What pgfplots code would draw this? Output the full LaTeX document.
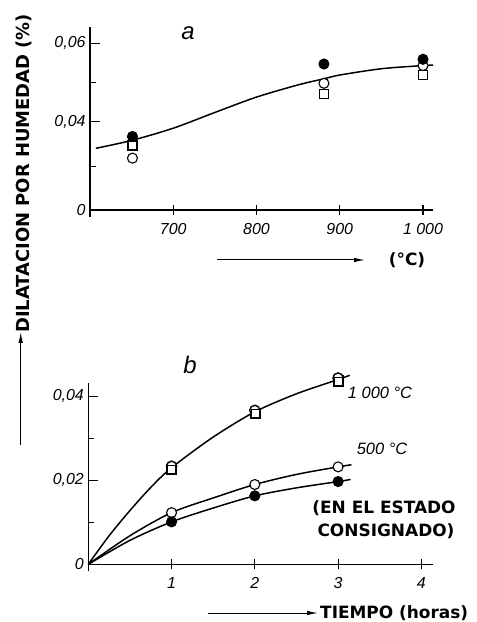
\documentclass[border=0pt]{standalone}
\usepackage{fontspec}
\setmainfont{Liberation Sans}
\newfontfamily\dv{DejaVu Sans}
\usepackage{pgfplots}
\pgfplotsset{compat=1.18}
\usetikzlibrary{arrows.meta}

\pgfplotsset{
  fig/.style={
    scale only axis, axis lines*=left, clip=false,
    axis line style={line width=1.1pt},
    y axis line style={shorten <=-7bp},
    major tick length=10bp, minor tick length=6bp,
    tick style={line width=1.1pt, black},
    xtick align=center, ytick align=inside,
    scaled ticks=false,
    ticklabel style={font=\fontsize{16}{16}\selectfont\itshape},
    yticklabel style={xshift=-1bp},
    xticklabel style={yshift=-5bp},
  },
  curve/.style={black, line width=1.5pt, smooth, no marks},
  opn/.style={only marks, mark=*, mark size=5bp, mark options={draw=black, fill=white, line width=1.1pt}},
  ful/.style={only marks, mark=*, mark size=5bp, mark options={draw=black, fill=black, line width=1.1pt}},
  sqr/.style={only marks, mark=square*, mark size=4.5bp, mark options={draw=black, fill=white, line width=1.1pt}},
}

\begin{document}
\begin{tikzpicture}[x=1bp,y=1bp]
\useasboundingbox (0,0) rectangle (477,622);

% --- a: dilatacion vs temperatura ---
\begin{axis}[fig,
  at={(90bp,412bp)}, anchor=south west,
  width=343bp, height=183bp,
  xmin=600, xmax=1012, ymin=0.01764, ymax=0.0641,
  xtick={700,800,900,1000}, xticklabels={700,800,900,1 000},
  ytick={0.01764,0.04,0.06}, yticklabels={0,{0,04},{0,06}},
  minor ytick={0.0286,0.05},
]
\addplot[curve] coordinates {(607,0.0333) (650,0.0353) (700,0.0384) (750,0.0424) (800,0.0463) (850,0.0494) (880,0.0509) (900,0.0519) (950,0.0535) (1000,0.0543) (1012,0.0544)};
\addplot[sqr] coordinates {(651,0.0340) (881,0.0471) (1000,0.0519)};
\addplot[opn] coordinates {(651,0.0308) (881,0.0498) (1000,0.0543)};
\addplot[ful] coordinates {(651,0.0363) (881,0.0547) (1000,0.0559)};
\end{axis}

% --- b: dilatacion vs tiempo ---
\begin{axis}[fig,
  at={(88.3bp,57.7bp)}, anchor=south west,
  width=344.7bp, height=181bp,
  xmin=0, xmax=4.14, ymin=0, ymax=0.0431,
  xtick={1,2,3,4}, xticklabels={1,2,3,4},
  ytick={0,0.02,0.04}, yticklabels={0,{0,02},{0,04}},
  minor ytick={0.01,0.03},
]
\addplot[curve] coordinates {(0,0) (0.25,0.0068) (0.5,0.0128) (0.75,0.0183) (1,0.0230) (1.5,0.0303) (2,0.0363) (2.5,0.0406) (3,0.0440) (3.14,0.0450)};
\addplot[curve] coordinates {(0,0) (0.5,0.0068) (1,0.0123) (1.5,0.0158) (2,0.0190) (2.5,0.0214) (3,0.0232) (3.16,0.0237)};
\addplot[curve] coordinates {(0,0) (0.5,0.0057) (1,0.0101) (1.5,0.0134) (2,0.0163) (2.5,0.0182) (3,0.0197) (3.15,0.0202)};
% 1000 C: circle and square drawn over each other
\addplot[only marks, mark=*, mark size=5.6bp, mark options={black, yshift=1.5bp}] coordinates {(1,0.0230) (2,0.0363) (3,0.0440)};
\addplot[only marks, mark=square*, mark size=5.1bp, mark options={black, yshift=-1.2bp}] coordinates {(1,0.0230) (2,0.0363) (3,0.0440)};
\addplot[only marks, mark=*, mark size=4.5bp, mark options={draw=none, fill=white, yshift=1.5bp}] coordinates {(1,0.0230) (2,0.0363) (3,0.0440)};
\addplot[only marks, mark=square*, mark size=4bp, mark options={draw=none, fill=white, yshift=-1.2bp}] coordinates {(1,0.0230) (2,0.0363) (3,0.0440)};
\addplot[opn] coordinates {(1,0.0123) (2,0.0190) (3,0.0232)};
\addplot[ful] coordinates {(1,0.0101) (2,0.0163) (3,0.0197)};
\end{axis}

% etiquetas
\node[font=\fontsize{24}{24}\selectfont\itshape] at (188,589) {a};
\node[font=\fontsize{24}{24}\selectfont\itshape] at (190,257) {b};
\node[font=\fontsize{16.5}{16.5}\selectfont\itshape] at (380,229.3) {1 000 °C};
\node[font=\fontsize{16.5}{16.5}\selectfont\itshape] at (382,172.7) {500 °C};
\node[font=\dv\bfseries\fontsize{17}{17}\selectfont] at (384,114) {(EN EL ESTADO};
\node[font=\dv\bfseries\fontsize{17}{17}\selectfont] at (386,91.3) {CONSIGNADO)};
\node[font=\dv\bfseries\fontsize{17}{17}\selectfont] at (407,362) {(°C)};
\node[font=\dv\bfseries\fontsize{17}{17}\selectfont, anchor=base west, inner sep=0] at (320,3.5) {TIEMPO (horas)};
\node[font=\dv\bfseries\fontsize{18}{18}\selectfont, rotate=90, anchor=west, inner sep=0] at (24,289) {DILATACION POR HUMEDAD (\%)};

\draw[line width=1pt, -{Latex[length=11bp,width=4.5bp]}] (217,362) -- (365,362);
\draw[line width=1pt, -{Latex[length=11bp,width=4.5bp]}] (208,9) -- (318,9);
\draw[line width=1pt, -{Latex[length=11bp,width=4.5bp]}] (20.7,177) -- (20.7,290);
\end{tikzpicture}
\end{document}
